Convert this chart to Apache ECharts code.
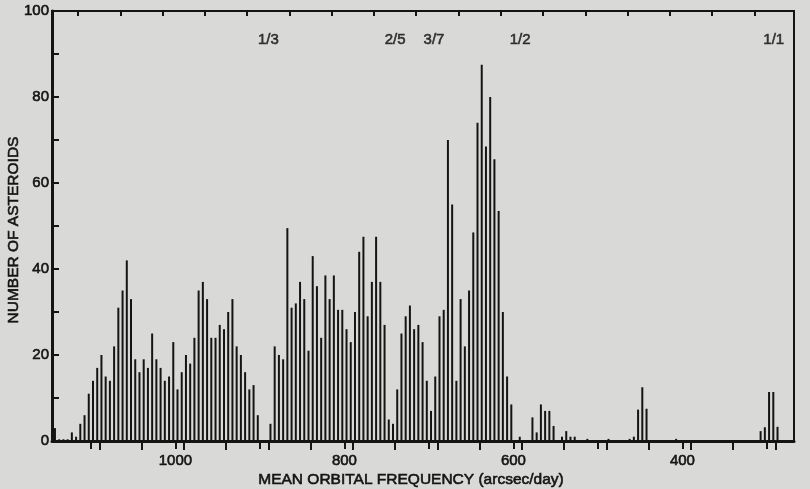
<!DOCTYPE html>
<html>
<head>
<meta charset="utf-8">
<script src="https://cdn.jsdelivr.net/npm/echarts@6/dist/echarts.min.js"></script>
<style>
  html, body { margin: 0; padding: 0; background: #d9d9d7; }
  #chart { width: 810px; height: 489px; }
</style>
</head>
<body>
<div id="chart"></div>
<script>
// Histogram bins: first bin centre and width (arcsec/day), counts
const firstBinCenter = 1142.5;
const binWidth = 5;
const counts = [
  3, 0.4, 0.4, 0.4, 2, 1, 4, 6, 11, 14,
  17, 20, 15, 14, 22, 31, 35, 42, 33, 19,
  16, 19, 17, 25, 19, 17, 14, 15, 23, 12,
  16, 20, 18, 24, 35, 37, 33, 24, 24, 27,
  26, 30, 33, 22, 20, 16, 12, 13, 6, 0,
  0, 4, 22, 20, 19, 49.5, 31, 32, 37, 33,
  21, 43, 36, 24, 38.5, 33, 38.5, 30.5, 30.5, 26,
  23, 30, 44, 47.5, 29, 37, 47.5, 37, 27, 5,
  4, 12, 25, 29, 31.5, 26, 27, 23, 14, 7,
  15, 29, 30.5, 70, 55, 14, 33, 22, 35, 48.5,
  74, 87.5, 68.5, 80, 65.5, 53.5, 30, 15, 8.5, 0,
  1, 0, 0, 5.5, 2, 8.5, 7, 7, 3.5, 0,
  1, 2.3, 1, 1, 0, 0, 0.5, 0, 0, 0,
  0, 0.5, 0, 0, 0, 0, 0.5, 1, 7.3, 12.5,
  7.5, 0, 0, 0, 0, 0, 0, 0.5, 0, 0,
  0, 0, 0, 0, 0, 0, 0, 0, 0, 0,
  0, 0, 0, 0, 0, 0, 0, 2.3, 3.2, 11.4,
  11.4, 3.3
];
const xTicks = [1100, 1000, 900, 800, 700, 600, 500, 400, 300];
const xTickLabels = [1000, 800, 600, 400];
const yTickLabels = [0, 20, 40, 60, 80, 100];
const topMajorTicks = [1090, 1040, 990, 940, 890, 840, 790, 740, 690, 640, 590, 540, 490, 440, 390, 340, 290];
const topMinorTicks = [1115, 1065, 1015, 965, 915, 865, 815, 765, 715, 665, 615, 565, 515, 465, 415, 365, 315];
const resonanceLabels = ['1/3', '2/5', '3/7', '1/2', '1/1'];
const resonanceFreq = [890, 740, 694, 592, 292];
const xTitle = 'MEAN ORBITAL FREQUENCY (arcsec/day)';
const yTitle = 'NUMBER OF ASTEROIDS';

const INK = '#141414';
const FONT = '"Liberation Sans", Arial, Helvetica, sans-serif';
const X_MIN = 268, X_MAX = 1146;
const THICK = { textBorderColor: INK, textBorderWidth: 0.6 };

const barData = counts.map((c, i) => [firstBinCenter - binWidth * i, c]);

const baseX = {
  type: 'value', min: X_MIN, max: X_MAX, inverse: true,
  splitLine: { show: false }
};

const chart = echarts.init(document.getElementById('chart'), null, { renderer: 'canvas' });
chart.setOption({
  backgroundColor: '#d9d9d7',
  animation: false,
  grid: {
    left: 52, right: 16, top: 11, bottom: 48,
    show: true, borderColor: INK, borderWidth: 2, backgroundColor: 'transparent'
  },
  xAxis: [
    Object.assign({}, baseX, {
      position: 'bottom',
      axisLine: { show: true, onZero: false, lineStyle: { color: INK, width: 3 } },
      axisTick: { show: true, inside: false, length: 8, lineStyle: { color: INK, width: 2 }, customValues: xTicks },
      axisLabel: Object.assign({ show: true, customValues: xTickLabels, color: INK, fontSize: 15, fontFamily: FONT, margin: 12,
        formatter: v => String(v) }, THICK)
    }),
    Object.assign({}, baseX, {
      position: 'top',
      axisLine: { show: false },
      axisTick: { show: true, inside: true, length: 9, lineStyle: { color: INK, width: 2 }, customValues: topMajorTicks },
      axisLabel: { show: false }
    }),
    Object.assign({}, baseX, {
      position: 'top',
      axisLine: { show: false },
      axisTick: { show: true, inside: true, length: 5, lineStyle: { color: INK, width: 2 }, customValues: topMinorTicks },
      axisLabel: { show: false }
    })
  ],
  yAxis: {
    type: 'value', min: 0, max: 100, interval: 10,
    splitLine: { show: false },
    axisLine: { show: true, lineStyle: { color: INK, width: 3 } },
    axisTick: { show: true, inside: true, length: 7, lineStyle: { color: INK, width: 2 } },
    axisLabel: Object.assign({
      color: INK, fontSize: 15, fontFamily: FONT, margin: 3,
      formatter: v => (yTickLabels.indexOf(v) >= 0 ? String(v) : '')
    }, THICK)
  },
  series: [
    {
      type: 'bar',
      xAxisIndex: 0,
      data: barData,
      barWidth: 2,
      itemStyle: { color: INK },
      silent: true
    },
    {
      type: 'scatter',
      xAxisIndex: 0,
      symbolSize: 0,
      data: resonanceFreq.map((f, i) => ({ value: [f, 93.3], name: resonanceLabels[i] })),
      label: Object.assign({
        show: true, position: 'inside', formatter: '{b}',
        color: INK, fontSize: 15, fontFamily: FONT
      }, THICK),
      silent: true
    }
  ],
  graphic: [
    {
      type: 'text', x: 411, y: 480, silent: true,
      style: { text: xTitle, fill: INK, font: '15.5px ' + FONT, textAlign: 'center', textVerticalAlign: 'middle',
        stroke: INK, lineWidth: 0.6 }
    },
    {
      type: 'text', x: 13.5, y: 230, rotation: Math.PI / 2, silent: true,
      style: { text: yTitle, fill: INK, font: '15.5px ' + FONT, textAlign: 'center', textVerticalAlign: 'middle',
        stroke: INK, lineWidth: 0.6 }
    }
  ]
});
</script>
</body>
</html>
